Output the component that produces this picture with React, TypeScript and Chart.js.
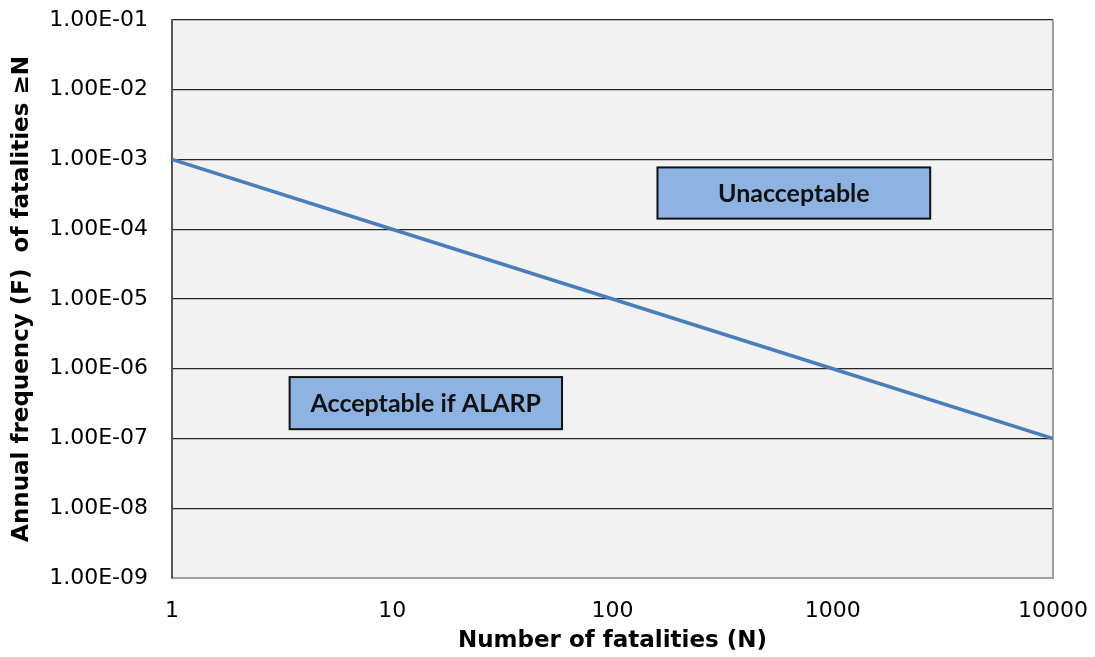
import React, { useEffect, useRef } from "react";
import { Chart, registerables } from "chart.js";

Chart.register(...registerables);

const fatalities = [1, 10, 100, 1000, 10000];
const frequency = [1e-3, 1e-4, 1e-5, 1e-6, 1e-7];
const xTicks = [1, 10, 100, 1000, 10000];
const yTicks = [1e-9, 1e-8, 1e-7, 1e-6, 1e-5, 1e-4, 1e-3, 1e-2, 1e-1];

const regionLabels = ["Unacceptable", "Acceptable if ALARP"];
const regionXMin = [160, 3.42];
const regionXMax = [2770, 59];
const regionYMin = [1.42e-4, 1.36e-7];
const regionYMax = [7.7e-4, 7.6e-7];

function fmtExp(v: number): string {
  const s = Number(v).toExponential(2).toUpperCase();
  const [m, e] = s.split("E");
  const sign = e.startsWith("-") ? "-" : "+";
  const digits = e.replace(/^[-+]/, "").padStart(2, "0");
  return m + "E" + sign + digits;
}

const plotDecor = {
  id: "plotDecor",
  beforeDraw(chart: any) {
    const { ctx, chartArea } = chart;
    ctx.save();
    ctx.fillStyle = "#F2F2F2";
    ctx.fillRect(chartArea.left, chartArea.top, chartArea.right - chartArea.left, chartArea.bottom - chartArea.top);
    ctx.restore();
  },
  beforeDatasetsDraw(chart: any) {
    const { ctx, chartArea } = chart;
    ctx.save();
    ctx.strokeStyle = "#A0A0A0";
    ctx.lineWidth = 2;
    ctx.beginPath();
    ctx.moveTo(chartArea.right, chartArea.top);
    ctx.lineTo(chartArea.right, chartArea.bottom);
    ctx.stroke();
    ctx.restore();
  },
  afterDatasetsDraw(chart: any) {
    const { ctx } = chart;
    const xs = chart.scales.x;
    const ys = chart.scales.y;
    ctx.save();
    for (let i = 0; i < regionLabels.length; i++) {
      const x0 = xs.getPixelForValue(regionXMin[i]);
      const x1 = xs.getPixelForValue(regionXMax[i]);
      const y0 = ys.getPixelForValue(regionYMax[i]);
      const y1 = ys.getPixelForValue(regionYMin[i]);
      ctx.fillStyle = "#8DB3E2";
      ctx.fillRect(x0, y0, x1 - x0, y1 - y0);
      ctx.strokeStyle = "#111111";
      ctx.lineWidth = 2;
      ctx.strokeRect(x0, y0, x1 - x0, y1 - y0);
      ctx.fillStyle = "#111111";
      ctx.font = "bold 25px Lato";
      ctx.textAlign = "center";
      ctx.textBaseline = "middle";
      ctx.fillText(regionLabels[i], (x0 + x1) / 2, (y0 + y1) / 2 + 1);
    }
    ctx.restore();
  },
};

export default function App() {
  const ref = useRef<HTMLCanvasElement | null>(null);
  useEffect(() => {
    document.body.style.margin = "0";
    if (!ref.current) return;
    const chart = new Chart(ref.current, {
      type: "line",
      data: {
        datasets: [
          {
            data: fatalities.map((x, i) => ({ x, y: frequency[i] })),
            borderColor: "#4A7EBB",
            borderWidth: 3.5,
            pointRadius: 0,
            fill: false,
            tension: 0,
          },
        ],
      },
      options: {
        animation: false,
        responsive: false,
        layout: { padding: { top: 20, right: 42, left: 0, bottom: 0 } },
        plugins: { legend: { display: false }, tooltip: { enabled: false } },
        scales: {
          x: {
            type: "logarithmic",
            min: 1,
            max: 10000,
            afterBuildTicks: (s: any) => {
              s.ticks = xTicks.map((v) => ({ value: v }));
            },
            afterFit: (s: any) => {
              s.height = 79;
              s.paddingLeft = 0;
              s.paddingRight = 0;
            },
            grid: { display: false, drawTicks: false },
            border: { display: true, color: "#A0A0A0", width: 2 },
            ticks: {
              autoSkip: false,
              maxRotation: 0,
              padding: 20,
              color: "#000000",
              font: { family: "DejaVu Sans", size: 22 },
              callback: (v: any) => String(v),
            },
            title: {
              display: true,
              text: "Number of fatalities (N)",
              color: "#000000",
              font: { family: "DejaVu Sans", size: 23, weight: "bold" },
              padding: { top: 0, bottom: 2 },
            },
          },
          y: {
            type: "logarithmic",
            min: 1e-9,
            max: 1e-1,
            afterBuildTicks: (s: any) => {
              s.ticks = yTicks.map((v) => ({ value: v }));
            },
            afterFit: (s: any) => {
              s.width = 172;
              s.paddingTop = 0;
              s.paddingBottom = 0;
            },
            grid: {
              drawTicks: false,
              color: (c: any) => (c.tick && c.tick.value <= 1e-9 ? "rgba(0,0,0,0)" : "#262626"),
              lineWidth: 1.2,
            },
            border: { display: true, color: "#555555", width: 2 },
            ticks: {
              autoSkip: false,
              padding: 24,
              color: "#000000",
              font: { family: "DejaVu Sans", size: 22 },
              callback: (v: any) => fmtExp(v),
            },
            title: {
              display: true,
              text: "Annual frequency (F)  of fatalities ≥N",
              color: "#000000",
              font: { family: "DejaVu Sans", size: 23, weight: "bold" },
              padding: { top: 8, bottom: 0 },
            },
          },
        },
      },
      plugins: [plotDecor],
    });
    return () => chart.destroy();
  }, []);
  return (
    <div style={{ position: "absolute", left: 0, top: 0, width: 1095, height: 657 }}>
      <canvas ref={ref} width={1095} height={657} />
    </div>
  );
}
